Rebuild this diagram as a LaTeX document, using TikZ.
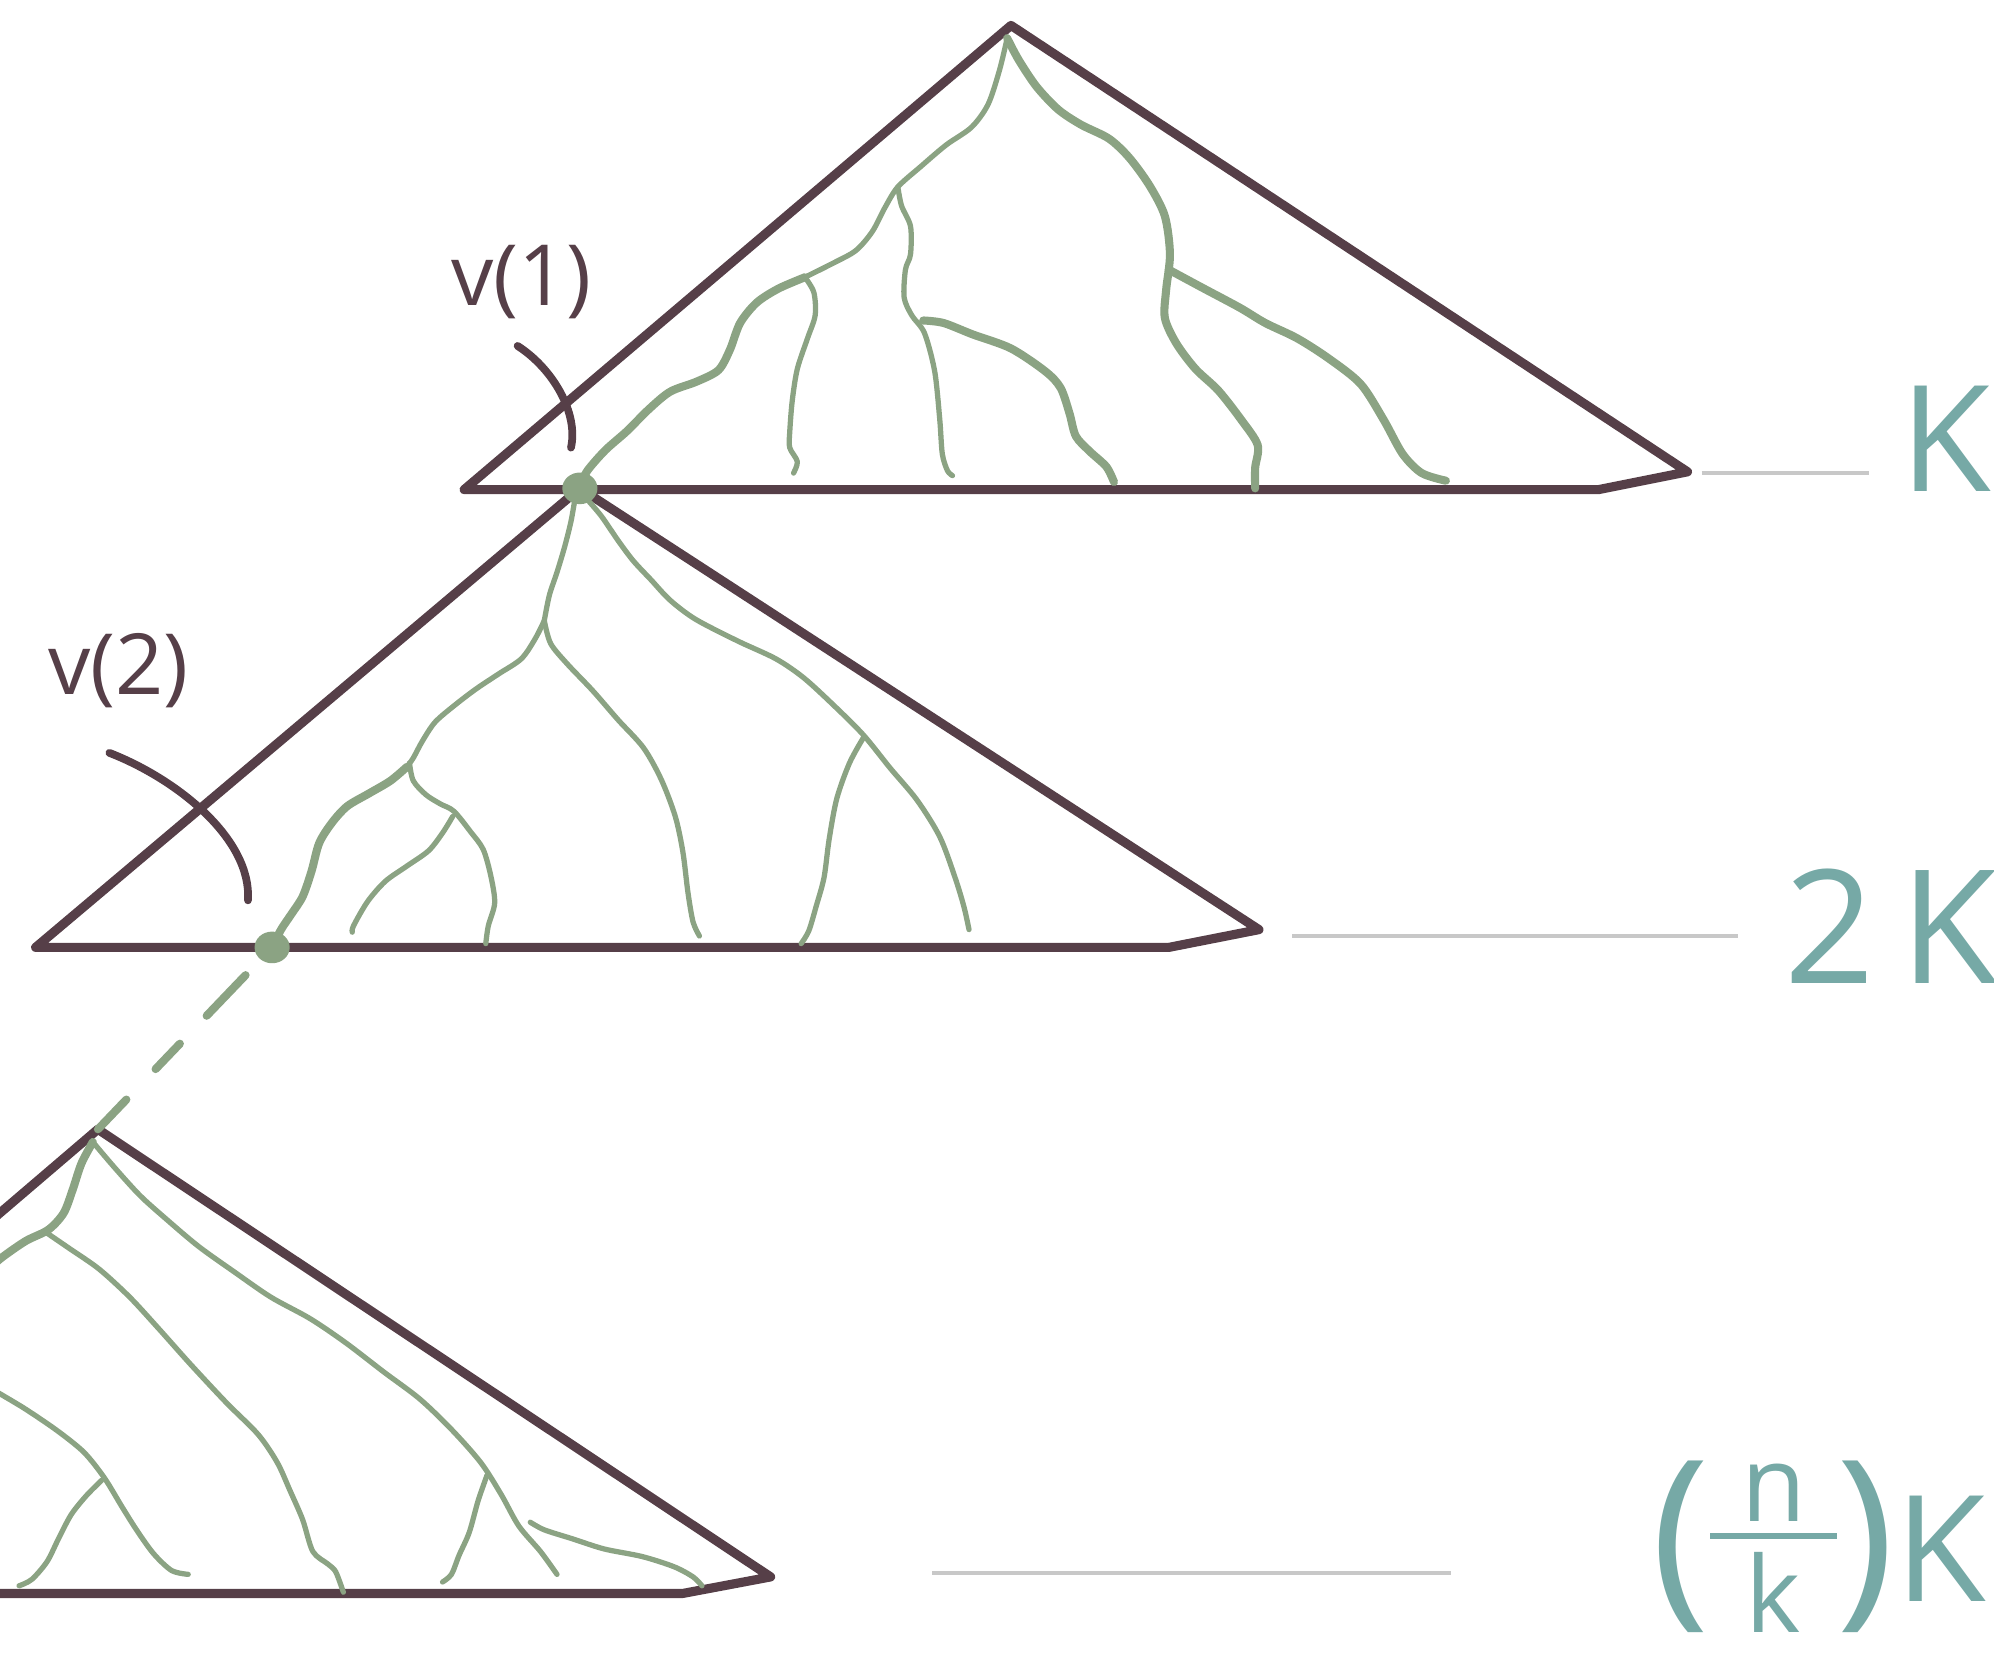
\documentclass[tikz,border=0pt]{standalone}
\usepackage{fontspec}
\setmainfont{Open Sans}
\usetikzlibrary{positioning, shapes.geometric}
\definecolor{cplum}{HTML}{563F48}
\definecolor{cgreen}{HTML}{8BA383}
\definecolor{cteal}{HTML}{76A9A6}
\definecolor{cgrey}{HTML}{C8C8C8}
\newcommand{\handfrac}[2]{\raisebox{-9pt}{\fontsize{30}{30}\selectfont\vbox{\hbox to 36pt{\hss#1\hss}\kern3pt\hrule height 1.7pt\kern4pt\hbox to 36pt{\hss#2\hss}}}}
\tikzset{
  tri/.style={draw=cplum, line width=2.6pt, line join=round, line cap=round},
  branch/.style={draw=cgreen, line width=1.5pt, line cap=round, line join=round},
  thickbranch/.style={branch, line width=2.3pt},
  level/.style={draw=cgrey, line width=1pt},
  pointer/.style={draw=cplum, line width=2.2pt, line cap=round},
  vlabel/.style={text=cplum, font=\fontsize{24}{26}\selectfont, inner sep=0pt},
  height/.style={text=cteal, font=\fontsize{42}{46}\selectfont, inner sep=0pt},
  dot/.style={ellipse, fill=cgreen, inner sep=0pt, minimum width=10pt, minimum height=9pt},
}

\begin{document}
\begin{tikzpicture}[x=0.012717cm, y=-0.012717cm]
  \useasboundingbox (0,0) rectangle (1568,1301);
  \clip (0,0) rectangle (1568,1301);

  % subtree triangles
  \coordinate (top1) at (795,20);
  \coordinate (top3) at (77,888);
  \coordinate (apex2) at (456,384);
  \draw[tri] (top1) -- (365,385) -- (1257,385) -- (1327,371) -- cycle;
  \draw[tri] (apex2) -- (28,745) -- (919,745) -- (990,731) -- cycle;
  \draw[tri] (-40,988) -- (top3) -- (606,1240) -- (537,1253) -- (-40,1253);

  % first tree
  \draw[branch] plot[smooth] coordinates {(792,30) (786,55) (777,82) (764,100) (744,114) (724,131) (706,147) (696,163) (686,182) (673,197) (655,207) (633,218)};
  \draw[thickbranch] plot[smooth] coordinates {(633,218) (612,227) (595,238) (582,254) (574,275) (565,291) (548,300) (527,308) (510,322) (493,339) (476,354) (462,370) (456,382)};
  \draw[branch] plot[smooth] coordinates {(633,218) (640,230) (641,248) (635,266) (627,290) (623,315) (621,340) (621,352) (627,363) (624,372)};
  \draw[branch] plot[smooth] coordinates {(706,147) (709,162) (716,178) (716,200) (712,212) (711,234) (717,248) (727,262) (735,292) (739,330) (741,357) (745,370) (749,374)};
  \draw[thickbranch] plot[smooth] coordinates {(726,252) (742,254) (765,263) (795,274) (822,292) (834,305) (841,325) (846,343) (857,355) (870,367) (876,379)};
  \draw[thickbranch] plot[smooth] coordinates {(792,30) (801,47) (815,68) (832,86) (850,98) (872,109) (888,124) (904,146) (916,170) (920,200) (917,228) (916,250) (925,270) (940,290) (958,307) (976,330) (989,350) (987,368) (987,384)};
  \draw[thickbranch] plot[smooth] coordinates {(919,212) (945,226) (975,242) (995,254) (1020,266) (1045,282) (1070,302) (1088,330) (1103,357) (1118,372) (1137,378)};

  % second tree
  \draw[branch] plot[smooth] coordinates {(452,393) (449,410) (444,430) (438,450) (432,468) (428,488)};
  \draw[branch] plot[smooth] coordinates {(428,488) (421,502) (410,518) (392,530) (374,542) (357,555) (342,568) (332,583) (325,596) (320,603)};
  \draw[thickbranch] plot[smooth] coordinates {(320,603) (307,614) (290,624) (273,634) (261,647) (251,663) (245,685) (238,705) (229,719) (221,731) (214,745)};
  \draw[branch] plot[smooth] coordinates {(322,600) (325,614) (335,625) (346,632) (357,638) (370,654) (380,668) (386,689) (389,710) (384,728) (382,742)};
  \draw[branch] plot[smooth] coordinates {(356,642) (348,655) (337,669) (320,681) (303,693) (289,709) (278,728) (277,733)};
  \draw[branch] plot[smooth] coordinates {(428,488) (433,506) (446,522) (466,543) (486,566) (506,588) (520,613) (531,642) (537,670) (541,702) (545,725) (550,736)};
  \draw[branch] plot[smooth] coordinates {(462,393) (473,406) (486,425) (498,441) (512,456) (527,472) (547,487) (580,504) (610,518) (632,533) (656,555) (679,578) (700,604) (721,629) (739,658) (751,690) (758,713) (762,731)};
  \draw[branch] plot[smooth] coordinates {(679,580) (668,600) (658,628) (652,660) (648,690) (642,712) (636,732) (630,742)};

  % attachment vertices
  \node[dot] (dot1) at (apex2) {};
  \node[dot] (dot2) at (214,745) {};

  % link down to the last tree
  \draw[thickbranch, dash pattern=on 16pt off 11pt on 10pt off 12pt on 15pt off 20pt, shorten <=6pt] (dot2) -- (top3);

  % last tree
  \draw[thickbranch] plot[smooth] coordinates {(73,898) (64,915) (57,936) (50,954) (38,967) (20,976) (0,990) (-10,1000)};
  \draw[branch] plot[smooth] coordinates {(36,969) (55,982) (78,998) (102,1020) (125,1045) (150,1073) (178,1103) (203,1128) (218,1150) (228,1172) (238,1195) (246,1220) (258,1230) (264,1236) (270,1252)};
  \draw[branch] plot[smooth] coordinates {(73,898) (90,918) (110,940) (130,958) (156,980) (184,1000) (213,1020) (244,1037) (272,1056) (302,1079) (330,1100) (355,1124) (378,1150) (394,1175) (408,1200) (425,1220) (438,1238)};
  \draw[branch] plot[smooth] coordinates {(383,1160) (376,1180) (369,1205) (361,1223) (355,1238) (348,1244)};
  \draw[branch] plot[smooth] coordinates {(417,1197) (428,1203) (450,1210) (475,1218) (505,1224) (530,1232) (545,1240) (552,1247)};
  \draw[branch] plot[smooth] coordinates {(-10,1090) (0,1096) (20,1108) (45,1125) (66,1142) (82,1162) (96,1185) (108,1204) (121,1222) (135,1235) (148,1238)};
  \draw[branch] plot[smooth] coordinates {(80,1164) (68,1176) (56,1191) (46,1210) (37,1228) (25,1242) (15,1247)};

  % labels
  \node[vlabel] (v1) at (410,222) {v(1)};
  \node[vlabel] (v2) at (93,527) {v(2)};
  \coordinate (p1) at (407,272);
  \coordinate (p2) at (86,592);
  \draw[pointer] (p1) .. controls (435,290) and (455,325) .. (449,352);
  \draw[pointer] (p2) .. controls (140,613) and (198,660) .. (195,708);

  \node[height] (h1) at (1530,345) {K};
  \node[height, font=\fontsize{45}{50}\selectfont] (h2) at (1487,728) {2\,K};
  \node[height, anchor=base east] (h3) at (1562,1259) {{\fontsize{56}{56}\selectfont(}\handfrac{n}{k}{\fontsize{56}{56}\selectfont)}K};
  \draw[level] (1338,372) -- (1470,372);
  \draw[level] (1016,736) -- (1367,736);
  \draw[level] (733,1237) -- (1141,1237);
\end{tikzpicture}
\end{document}
